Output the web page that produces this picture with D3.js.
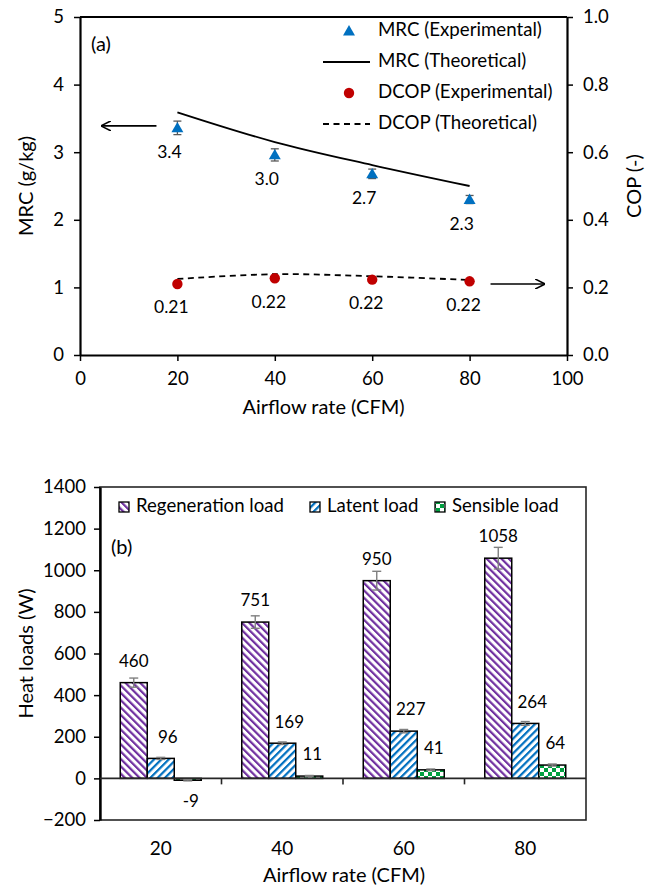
<!DOCTYPE html>
<html>
<head>
<meta charset="utf-8">
<script src="https://cdn.jsdelivr.net/npm/d3@7"></script>
<style>
  body { margin: 0; background: #fff; }
  svg text { font-family: Lato, "Open Sans", sans-serif; fill: #000; }
</style>
</head>
<body>
<svg id="chart" width="657" height="890"></svg>
<script>
// ---- Panel (a): moisture removal capacity and COP ----
const airflow = [20, 40, 60, 80];
const mrcExp = [3.36, 2.96, 2.68, 2.30];
const mrcErr = [0.10, 0.09, 0.07, 0.06];
const mrcLabels = ["3.4", "3.0", "2.7", "2.3"];
const mrcTheo = [3.59, 3.15, 2.81, 2.50];
const copExp = [0.210, 0.227, 0.223, 0.218];
const copLabels = ["0.21", "0.22", "0.22", "0.22"];
const copTheo = [0.225, 0.239, 0.233, 0.222];
const xTicksA = [0, 20, 40, 60, 80, 100];
const mrcTicks = [0, 1, 2, 3, 4, 5];
const copTicks = [0, 0.2, 0.4, 0.6, 0.8, 1.0];

// ---- Panel (b): heat loads ----
const categories = ["20", "40", "60", "80"];
const loadSeries = ["Regeneration load", "Latent load", "Sensible load"];
const regenLoad = [460, 751, 950, 1058];
const latentLoad = [96, 169, 227, 264];
const sensibleLoad = [-9, 11, 41, 64];
const regenErr = [22, 30, 45, 52];
const latentErr = [5, 6, 8, 9];
const sensibleErr = [3, 3, 4, 5];
const loadTicks = [-200, 0, 200, 400, 600, 800, 1000, 1200, 1400];

const svg = d3.select("#chart");
const TICK_FS = 18.5;
const TITLE_FS = 20;

// ================= Panel (a) =================
const A = { l: 80, r: 567, t: 17, b: 355 };
const xA = d3.scaleLinear().domain([0, 100]).range([A.l, A.r]);
const yL = d3.scaleLinear().domain([0, 5]).range([A.b, A.t]);
const yR = d3.scaleLinear().domain([0, 1]).range([A.b, A.t]);

const gA = svg.append("g");

function styleAxis(g, width, color) {
  g.selectAll(".domain").attr("stroke", color).attr("stroke-width", width);
  g.selectAll(".tick line").attr("stroke", color).attr("stroke-width", 1.5);
  g.selectAll(".tick text").attr("font-size", TICK_FS).attr("fill", "#000");
}

// frame top edge
gA.append("line").attr("x1", A.l).attr("x2", A.r).attr("y1", A.t).attr("y2", A.t)
  .attr("stroke", "#000").attr("stroke-width", 2);

gA.append("g").attr("transform", `translate(0,${A.b})`)
  .call(d3.axisBottom(xA).tickValues(xTicksA).tickSize(6).tickSizeOuter(0).tickPadding(11).tickFormat(d3.format("d")))
  .call(g => styleAxis(g, 2.2, "#000"));
gA.append("g").attr("transform", `translate(${A.l},0)`)
  .call(d3.axisLeft(yL).tickValues(mrcTicks).tickSize(6).tickSizeOuter(0).tickPadding(10).tickFormat(d3.format("d")))
  .call(g => styleAxis(g, 2.2, "#000"));
gA.append("g").attr("transform", `translate(${A.r},0)`)
  .call(d3.axisRight(yR).tickValues(copTicks).tickSize(6).tickSizeOuter(0).tickPadding(10).tickFormat(d3.format(".1f")))
  .call(g => styleAxis(g, 2.2, "#000"));

// axis titles
gA.append("text").attr("transform", `translate(28,${(A.t + A.b) / 2}) rotate(-90)`)
  .attr("text-anchor", "middle").attr("dominant-baseline", "middle").attr("font-size", TITLE_FS).text("MRC (g/kg)");
gA.append("text").attr("transform", `translate(636,${(A.t + A.b) / 2}) rotate(-90)`)
  .attr("text-anchor", "middle").attr("dominant-baseline", "middle").attr("font-size", TITLE_FS).text("COP (-)");
gA.append("text").attr("x", (A.l + A.r) / 2).attr("y", 409)
  .attr("text-anchor", "middle").attr("dominant-baseline", "middle").attr("font-size", TITLE_FS).text("Airflow rate (CFM)");
gA.append("text").attr("x", 91).attr("y", 46).attr("dominant-baseline", "middle")
  .attr("font-size", 20).text("(a)");

// theoretical curves
const curve = d3.curveCatmullRom.alpha(0.5);
const lineL = d3.line().x((d, i) => xA(airflow[i])).y(d => yL(d)).curve(curve);
const lineR = d3.line().x((d, i) => xA(airflow[i])).y(d => yR(d)).curve(curve);
gA.append("path").attr("d", lineL(mrcTheo)).attr("fill", "none").attr("stroke", "#000").attr("stroke-width", 1.8);
gA.append("path").attr("d", lineR(copTheo)).attr("fill", "none").attr("stroke", "#000")
  .attr("stroke-width", 1.8).attr("stroke-dasharray", "6,4.5");

// MRC experimental: error bars + triangles
const tri = d3.symbol().type(d3.symbolTriangle).size(62);
airflow.forEach((a, i) => {
  const x = xA(a), y0 = yL(mrcExp[i] - mrcErr[i]), y1 = yL(mrcExp[i] + mrcErr[i]);
  const eb = gA.append("g").attr("stroke", "#595959").attr("stroke-width", 1.3);
  eb.append("line").attr("x1", x).attr("x2", x).attr("y1", y0).attr("y2", y1);
  eb.append("line").attr("x1", x - 4).attr("x2", x + 4).attr("y1", y0).attr("y2", y0);
  eb.append("line").attr("x1", x - 4).attr("x2", x + 4).attr("y1", y1).attr("y2", y1);
});
gA.selectAll("path.mrc").data(mrcExp).join("path").attr("class", "mrc")
  .attr("d", tri).attr("transform", (d, i) => `translate(${xA(airflow[i])},${yL(d) + 1})`)
  .attr("fill", "#0070C0");
gA.selectAll("text.mrcl").data(mrcLabels).join("text").attr("class", "mrcl")
  .attr("x", (d, i) => xA(airflow[i]) - 8).attr("y", (d, i) => yL(mrcExp[i]) + 26)
  .attr("text-anchor", "middle").attr("dominant-baseline", "middle").attr("font-size", 17.5).text(d => d);

// COP experimental
gA.selectAll("circle.cop").data(copExp).join("circle").attr("class", "cop")
  .attr("cx", (d, i) => xA(airflow[i])).attr("cy", d => yR(d)).attr("r", 5.2).attr("fill", "#C00000");
gA.selectAll("text.copl").data(copLabels).join("text").attr("class", "copl")
  .attr("x", (d, i) => xA(airflow[i]) - 6).attr("y", (d, i) => yR(copExp[i]) + 25)
  .attr("text-anchor", "middle").attr("dominant-baseline", "middle").attr("font-size", 17.5).text(d => d);

// direction arrows pointing to the relevant axis
const defs = svg.append("defs");
defs.append("marker").attr("id", "ah").attr("viewBox", "0 0 10 10").attr("refX", 9).attr("refY", 5)
  .attr("markerWidth", 10).attr("markerHeight", 10).attr("markerUnits", "userSpaceOnUse").attr("orient", "auto")
  .append("path").attr("d", "M0,0 L10,5 L0,10").attr("fill", "none").attr("stroke", "#000").attr("stroke-width", 1.6);
gA.append("line").attr("x1", xA(15.7)).attr("x2", xA(4.5)).attr("y1", yL(mrcExp[0]) - 2).attr("y2", yL(mrcExp[0]) - 2)
  .attr("stroke", "#000").attr("stroke-width", 1.6).attr("marker-end", "url(#ah)");
gA.append("line").attr("x1", xA(84.3)).attr("x2", xA(95.3)).attr("y1", yR(copExp[0])).attr("y2", yR(copExp[0]))
  .attr("stroke", "#000").attr("stroke-width", 1.6).attr("marker-end", "url(#ah)");

// legend (a)
const legA = gA.append("g");
const legRows = [31, 62, 93, 124];
const legNames = ["MRC (Experimental)", "MRC (Theoretical)", "DCOP (Experimental)", "DCOP (Theoretical)"];
legA.append("path").attr("d", tri).attr("transform", `translate(349,${legRows[0] + 1})`).attr("fill", "#0070C0");
legA.append("line").attr("x1", 323).attr("x2", 370).attr("y1", legRows[1]).attr("y2", legRows[1])
  .attr("stroke", "#000").attr("stroke-width", 1.8);
legA.append("circle").attr("cx", 349).attr("cy", legRows[2]).attr("r", 5.2).attr("fill", "#C00000");
legA.append("line").attr("x1", 323).attr("x2", 370).attr("y1", legRows[3]).attr("y2", legRows[3])
  .attr("stroke", "#000").attr("stroke-width", 1.8).attr("stroke-dasharray", "6,4.5");
legA.selectAll("text").data(legNames).join("text").attr("x", 378).attr("y", (d, i) => legRows[i])
  .attr("dominant-baseline", "middle").attr("font-size", 18.7).text(d => d);

// ================= Panel (b) =================
const B = { l: 100, r: 586, t: 487, b: 820 };
const yB = d3.scaleLinear().domain([-200, 1400]).range([B.b, B.t]);
const x0 = d3.scaleBand().domain(categories).range([B.l, B.r]);
const x1 = d3.scaleBand().domain(loadSeries).range([0, x0.bandwidth()]).paddingOuter(0.75);

const colors = { regen: "#7030A0", latent: "#0070C0", sens: "#00A040" };

// fill patterns
function stripes(id, color, angle) {
  const p = defs.append("pattern").attr("id", id).attr("patternUnits", "userSpaceOnUse")
    .attr("width", 5.2).attr("height", 5.2).attr("patternTransform", `rotate(${angle})`);
  p.append("rect").attr("width", 5.2).attr("height", 5.2).attr("fill", "#fff");
  p.append("rect").attr("width", 2.2).attr("height", 5.2).attr("fill", color);
}
stripes("pRegen", colors.regen, -45);
stripes("pLatent", colors.latent, 45);
const pc = defs.append("pattern").attr("id", "pSens").attr("patternUnits", "userSpaceOnUse")
  .attr("width", 8).attr("height", 8);
pc.append("rect").attr("width", 8).attr("height", 8).attr("fill", "#fff");
pc.append("rect").attr("width", 4).attr("height", 4).attr("fill", colors.sens);
pc.append("rect").attr("x", 4).attr("y", 4).attr("width", 4).attr("height", 4).attr("fill", colors.sens);

const fills = ["url(#pRegen)", "url(#pLatent)", "url(#pSens)"];
const seriesVals = [regenLoad, latentLoad, sensibleLoad];
const seriesErr = [regenErr, latentErr, sensibleErr];
const labelNudge = [0, 7, 3];

const gB = svg.append("g");

// frame
gB.append("rect").attr("x", B.l).attr("y", B.t).attr("width", B.r - B.l).attr("height", B.b - B.t)
  .attr("fill", "none").attr("stroke", "#262626").attr("stroke-width", 1.6);

gB.append("g").attr("transform", `translate(${B.l},0)`)
  .call(d3.axisLeft(yB).tickValues(loadTicks).tickSize(6).tickSizeOuter(0).tickPadding(8).tickFormat(d3.format("d")))
  .call(g => styleAxis(g, 2.4, "#000"));

// bars
seriesVals.forEach((vals, s) => {
  const gS = gB.append("g");
  gS.selectAll("rect").data(vals).join("rect")
    .attr("x", (d, i) => x0(categories[i]) + x1(loadSeries[s]))
    .attr("width", x1.bandwidth())
    .attr("y", d => yB(Math.max(0, d)))
    .attr("height", d => Math.abs(yB(d) - yB(0)))
    .attr("fill", fills[s]).attr("stroke", "#000").attr("stroke-width", 1.5);
});

// zero line with category separators
const zl = gB.append("g").attr("stroke", "#262626").attr("stroke-width", 1.6);
zl.append("line").attr("x1", B.l).attr("x2", B.r).attr("y1", yB(0)).attr("y2", yB(0));
categories.slice(1).forEach(c => {
  zl.append("line").attr("x1", x0(c)).attr("x2", x0(c)).attr("y1", yB(0)).attr("y2", yB(0) + 6);
});

// error bars and value labels
seriesVals.forEach((vals, s) => {
  vals.forEach((v, i) => {
    const cx = x0(categories[i]) + x1(loadSeries[s]) + x1.bandwidth() / 2;
    const e = seriesErr[s][i];
    const ya = yB(v - e), yb = yB(v + e);
    const eb = gB.append("g").attr("stroke", "#7F7F7F").attr("stroke-width", 1.4);
    eb.append("line").attr("x1", cx).attr("x2", cx).attr("y1", ya).attr("y2", yb);
    eb.append("line").attr("x1", cx - 4.5).attr("x2", cx + 4.5).attr("y1", ya).attr("y2", ya);
    eb.append("line").attr("x1", cx - 4.5).attr("x2", cx + 4.5).attr("y1", yb).attr("y2", yb);
    const ly = v >= 0 ? yB(v) - 20 : yB(v) + 22;
    gB.append("text").attr("x", cx + labelNudge[s]).attr("y", ly)
      .attr("text-anchor", "middle").attr("dominant-baseline", "middle").attr("font-size", 17).text(v);
  });
});

// category labels and titles
gB.selectAll("text.cat").data(categories).join("text").attr("class", "cat")
  .attr("x", d => x0(d) + x0.bandwidth() / 2).attr("y", yB(-200) + 30)
  .attr("text-anchor", "middle").attr("dominant-baseline", "middle").attr("font-size", 19).text(d => d);
gB.append("text").attr("x", (B.l + B.r) / 2 + 1).attr("y", 877)
  .attr("text-anchor", "middle").attr("dominant-baseline", "middle").attr("font-size", TITLE_FS).text("Airflow rate (CFM)");
gB.append("text").attr("transform", `translate(28,${(B.t + B.b) / 2}) rotate(-90)`)
  .attr("text-anchor", "middle").attr("dominant-baseline", "middle").attr("font-size", TITLE_FS).text("Heat loads (W)");
gB.append("text").attr("x", 111).attr("y", 549).attr("dominant-baseline", "middle")
  .attr("font-size", 20).text("(b)");

// legend (b)
const legBx = [119, 310, 435];
const legB = gB.append("g");
loadSeries.forEach((name, s) => {
  legB.append("rect").attr("x", legBx[s]).attr("y", 502).attr("width", 10).attr("height", 10)
    .attr("fill", fills[s]).attr("stroke", "#000").attr("stroke-width", 1.3);
  legB.append("text").attr("x", legBx[s] + 17).attr("y", 507).attr("dominant-baseline", "middle")
    .attr("font-size", 18.6).text(name);
});
</script>
</body>
</html>
